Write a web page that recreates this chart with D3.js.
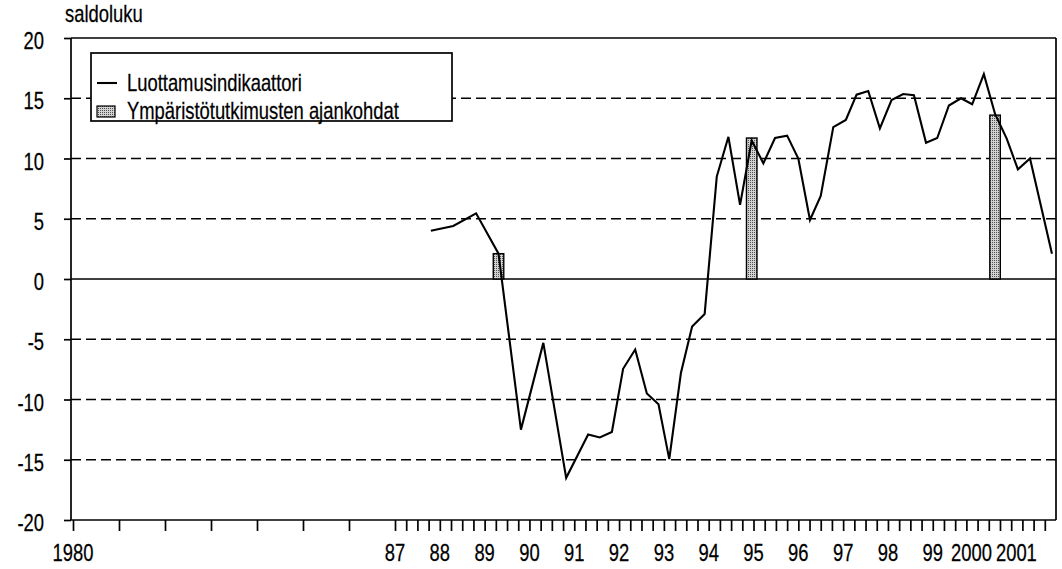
<!DOCTYPE html>
<head>
<meta charset="utf-8">
<title>Luottamusindikaattori</title>
<style>
  body { margin: 0; background: #fff; }
  text { font-family: "Liberation Sans", Arial, sans-serif; fill: #000; stroke: #000; stroke-width: 0.25; }
</style>
</head>
<body>
<script src="https://d3js.org/d3.v7.min.js"></script>
<script>

// consumer confidence indicator (saldoluku), dates as decimal years
var years = [1987.80, 1988.30, 1988.81, 1989.31, 1989.81, 1990.31, 1990.82, 1991.31,
    1991.57, 1991.84, 1992.09, 1992.36, 1992.62, 1992.88, 1993.12, 1993.38,
    1993.63, 1993.91, 1994.18, 1994.44, 1994.70, 1994.96, 1995.22, 1995.48,
    1995.75, 1996.00, 1996.26, 1996.50, 1996.78, 1997.06, 1997.30, 1997.56,
    1997.82, 1998.08, 1998.34, 1998.58, 1998.85, 1999.10, 1999.36, 1999.63,
    1999.88, 2000.14, 2000.39, 2000.65, 2000.90, 2001.17, 2001.66];
var values = [4.0, 4.4, 5.45, 2.1, -12.5, -5.3, -16.5, -12.9,
    -13.15, -12.7, -7.45, -5.85, -9.5, -10.4, -14.95, -7.8,
    -3.95, -2.9, 8.5, 11.8, 6.15, 11.5, 9.6, 11.7,
    11.9, 10.0, 4.9, 6.9, 12.6, 13.2, 15.3, 15.6,
    12.5, 14.85, 15.35, 15.25, 11.3, 11.7, 14.4, 15.0,
    14.5, 17.0, 13.7, 11.65, 9.1, 10.0, 2.1];

// dates of the environmental surveys
var surveyYears = [1989.31, 1994.96, 2000.39];
var surveyValues = [2.1, 11.7, 13.6];

var tickYears = [1980, 1987, 1988, 1989, 1990, 1991, 1992, 1993, 1994, 1995,
    1996, 1997, 1998, 1999, 2000, 2001];
var tickLabels = ["1980", "87", "88", "89", "90", "91", "92", "93", "94", "95",
    "96", "97", "98", "99", "2000", "2001"];

var width = 1062, height = 569;
var narrow = 0.8;   // no condensed face installed, squeeze the regular one

var x = d3.scaleLinear()
    .domain([1980, 1987, 2001.75])
    .range([73, 395, 1056]);

var y = d3.scaleLinear()
    .domain([-20, 20])
    .range([520, 38]);

var axisX = 71;

var svg = d3.select('body').append('svg')
    .attr('width', width)
    .attr('height', height);

function label(parent, tx, ty, str, anchor) {
    return parent.append('text')
        .attr('transform', 'translate(' + tx + ',' + ty + ') scale(' + narrow + ',1)')
        .attr('text-anchor', anchor || 'start')
        .attr('font-size', 23)
        .text(str);
}

var defs = svg.append('defs');
var pat = defs.append('pattern')
    .attr('id', 'dots')
    .attr('width', 2).attr('height', 2)
    .attr('patternUnits', 'userSpaceOnUse');
pat.append('rect').attr('width', 2).attr('height', 2).attr('fill', '#d2d2d2');
pat.append('rect').attr('width', 1).attr('height', 1).attr('fill', '#505050');

// dashed gridlines
svg.append('g')
    .selectAll('line')
    .data([15, 10, 5, -5, -10, -15])
    .enter().append('line')
    .attr('x1', axisX).attr('x2', x.range()[2])
    .attr('y1', function(d) { return y(d); })
    .attr('y2', function(d) { return y(d); })
    .attr('stroke', '#000')
    .attr('stroke-width', 1.7)
    .attr('stroke-dasharray', '10,5');

// solid lines: top, zero, bottom axis
svg.append('g')
    .selectAll('line')
    .data([20, 0, -20])
    .enter().append('line')
    .attr('x1', axisX).attr('x2', x.range()[2])
    .attr('y1', function(d) { return y(d); })
    .attr('y2', function(d) { return y(d); })
    .attr('stroke', '#000')
    .attr('stroke-width', 1.7);

// frame sides
svg.append('line')
    .attr('x1', axisX).attr('x2', axisX)
    .attr('y1', y(20)).attr('y2', y(-20))
    .attr('stroke', '#000').attr('stroke-width', 1.7);
svg.append('line')
    .attr('x1', x.range()[2]).attr('x2', x.range()[2])
    .attr('y1', y(20)).attr('y2', y(-20))
    .attr('stroke', '#000').attr('stroke-width', 1.7);

// y axis
var yTicks = d3.range(-20, 21, 5);
var yAxis = d3.axisLeft(y)
    .tickValues(yTicks)
    .tickSize(7)
    .tickFormat('');
var gy = svg.append('g')
    .attr('transform', 'translate(' + axisX + ',0)')
    .call(yAxis);
gy.select('.domain').remove();
gy.selectAll('.tick line').attr('stroke-width', 1.7);

var gyl = svg.append('g');
yTicks.forEach(function(v) {
    label(gyl, 44, y(v) + 11, String(v), 'end');
});

// x axis ticks: yearly before 1987, quarterly after
var minorTicks = d3.range(1980, 1987, 1).concat(d3.range(1987, 2001.51, 0.25));
var xAxis = d3.axisBottom(x)
    .tickValues(minorTicks)
    .tickSize(11)
    .tickFormat('');
var gx = svg.append('g')
    .attr('transform', 'translate(0,' + y(-20) + ')')
    .call(xAxis);
gx.select('.domain').remove();
gx.selectAll('.tick line').attr('stroke-width', 1.7);

var gxl = svg.append('g');
tickYears.forEach(function(d, i) {
    var shift = (tickLabels[i].length > 2 && i > 0) ? -6 : 0;
    label(gxl, x(d) + shift, 561, tickLabels[i], 'middle');
});

// survey bars
var barW = 10.5;
svg.append('g')
    .selectAll('rect')
    .data(surveyYears)
    .enter().append('rect')
    .attr('x', function(d) { return x(d) - barW / 2; })
    .attr('width', barW)
    .attr('y', function(d, i) { return y(surveyValues[i]); })
    .attr('height', function(d, i) { return y(0) - y(surveyValues[i]); })
    .attr('fill', 'url(#dots)')
    .attr('stroke', '#000')
    .attr('stroke-width', 1.4);

// confidence line
var line = d3.line()
    .x(function(d) { return x(d[0]); })
    .y(function(d) { return y(d[1]); });

svg.append('path')
    .datum(years.map(function(d, i) { return [d, values[i]]; }))
    .attr('d', line)
    .attr('fill', 'none')
    .attr('stroke', '#000')
    .attr('stroke-width', 2.1)
    .attr('stroke-linejoin', 'miter');

// unit label
label(svg, 65, 22, 'saldoluku');

// legend
var legend = svg.append('g');
legend.append('rect')
    .attr('x', 91).attr('y', 53)
    .attr('width', 361).attr('height', 68)
    .attr('fill', '#fff')
    .attr('stroke', '#000')
    .attr('stroke-width', 1.7);
legend.append('line')
    .attr('x1', 97).attr('x2', 117)
    .attr('y1', 83).attr('y2', 83)
    .attr('stroke', '#000').attr('stroke-width', 2.1);
label(legend, 127, 91, 'Luottamusindikaattori');
legend.append('rect')
    .attr('x', 97).attr('y', 106)
    .attr('width', 18).attr('height', 11)
    .attr('fill', 'url(#dots)')
    .attr('stroke', '#000').attr('stroke-width', 1.2);
label(legend, 127, 119, 'Ympäristötutkimusten ajankohdat');

</script>
</body>
